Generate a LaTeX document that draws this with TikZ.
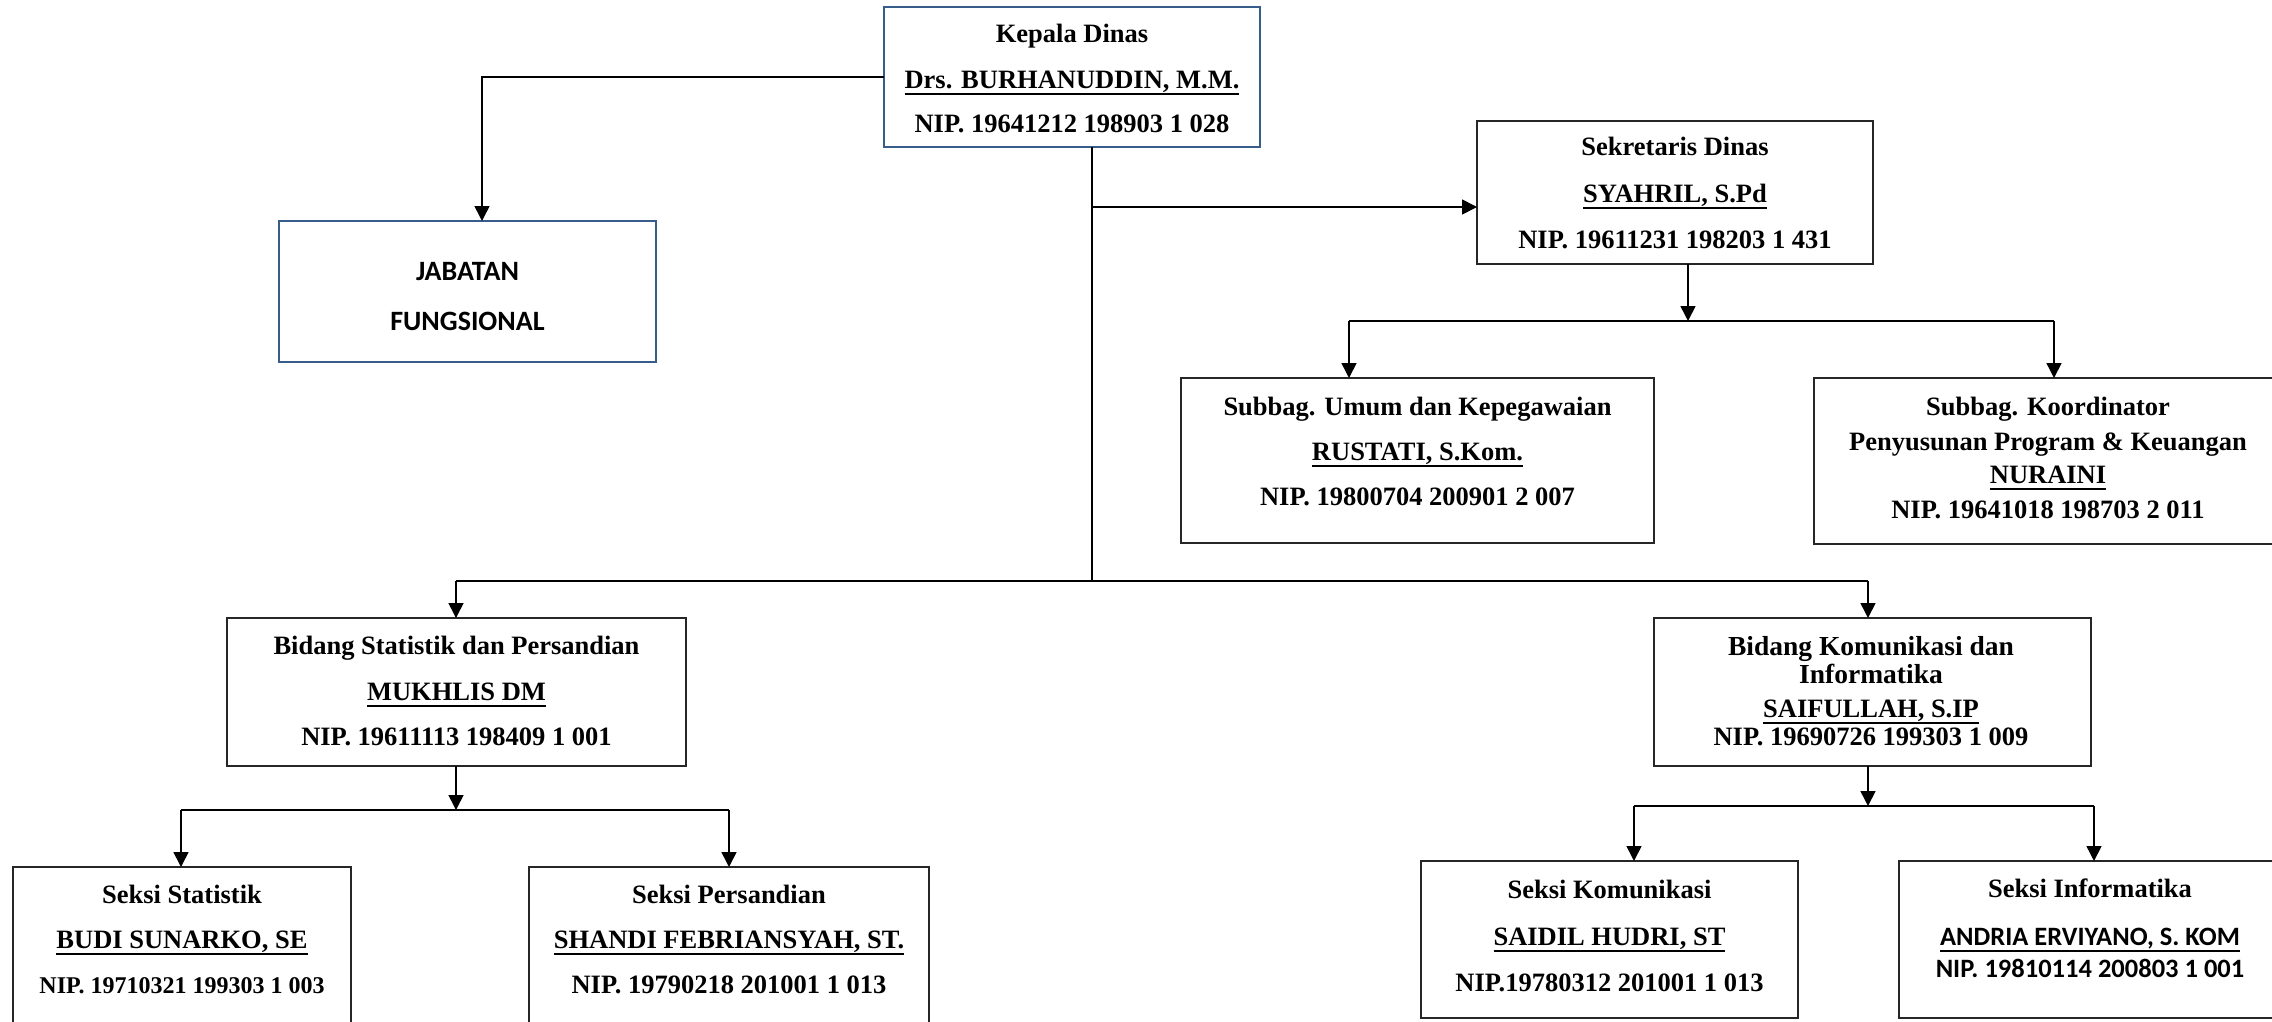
\documentclass[tikz,border=0pt]{standalone}
\usepackage{fontspec}
\setmainfont{Liberation Serif}
\newfontfamily\calfont{Carlito}
\newcommand\myul[1]{\setbox0=\hbox{#1}\leavevmode\rlap{\vrule width\wd0 height -4.6pt depth 7pt}\box0}
\usetikzlibrary{arrows.meta}
\definecolor{boxblue}{RGB}{56,93,138}
\tikzset{
  box/.style={draw=black!85, line width=1.6pt, inner sep=0pt, outer sep=0pt, rectangle},
  bluebox/.style={box, draw=boxblue},
  conn/.style={line width=1.6pt, black},
  arr/.style={conn, -{Triangle[length=15pt,width=15pt]}},
  tx/.style={anchor=base, inner sep=0pt, font=\rmfamily\bfseries\fontsize{26.5}{30}\selectfont},
  txbig/.style={anchor=base, inner sep=0pt, font=\rmfamily\bfseries\fontsize{27.5}{32}\selectfont},
  txsm/.style={anchor=base, inner sep=0pt, font=\rmfamily\bfseries\fontsize{24}{28}\selectfont},
  txc/.style={anchor=base, inner sep=0pt, font=\calfont\bfseries\fontsize{26.5}{30}\selectfont},
  txcbig/.style={anchor=base, inner sep=0pt, font=\calfont\bfseries\fontsize{28}{32}\selectfont},
}
\begin{document}
\begin{tikzpicture}[x=1pt,y=-1pt]
\useasboundingbox (0,0) rectangle (2272,1021);
\clip (0,0) rectangle (2272,1021);

% boxes
\node[bluebox, minimum width=376pt, minimum height=140pt] (kd) at (1072,77) {};
\node[bluebox, minimum width=377pt, minimum height=141pt] (jf) at (467.5,291.5) {};
\node[box, minimum width=396pt, minimum height=143pt] (sd) at (1675,192.5) {};
\node[box, minimum width=473pt, minimum height=165pt] (su) at (1417.5,460.5) {};
\node[box, minimum width=478pt, minimum height=166pt] (sk) at (2053,461) {};
\node[box, minimum width=459pt, minimum height=148pt] (bs) at (456.5,692) {};
\node[box, minimum width=437pt, minimum height=148pt] (bk) at (1872.5,692) {};
\node[box, minimum width=338pt, minimum height=173pt] (ss) at (182,953.5) {};
\node[box, minimum width=400pt, minimum height=173pt] (sp) at (729,953.5) {};
\node[box, minimum width=377pt, minimum height=157pt] (kom) at (1609.5,939.5) {};
\node[box, minimum width=383pt, minimum height=157pt] (inf) at (2090.5,939.5) {};

% texts
\node[tx] (kd1) at (1072,42) {Kepala Dinas};
\node[tx] (kd2) at (1072,88) {\myul{Drs. BURHANUDDIN, M.M.}};
\node[tx] (kd3) at (1072,132) {NIP. 19641212 198903 1 028};

\node[txcbig] (jf1) at (467.5,280) {JABATAN};
\node[txcbig] (jf2) at (467.5,330) {FUNGSIONAL};

\node[tx] (sd1) at (1675,155) {Sekretaris Dinas};
\node[tx] (sd2) at (1675,202) {\myul{SYAHRIL, S.Pd}};
\node[tx] (sd3) at (1675,248) {NIP. 19611231 198203 1 431};

\node[tx] (su1) at (1417.5,415) {Subbag. Umum dan Kepegawaian};
\node[tx] (su2) at (1417.5,460) {\myul{RUSTATI, S.Kom.}};
\node[tx] (su3) at (1417.5,505) {NIP. 19800704 200901 2 007};

\node[tx] (sk1) at (2048,415) {Subbag. Koordinator};
\node[tx] (sk2) at (2048,450) {Penyusunan Program \& Keuangan};
\node[tx] (sk3) at (2048,483) {\myul{NURAINI}};
\node[tx] (sk4) at (2048,518) {NIP. 19641018 198703 2 011};

\node[tx] (bs1) at (456.5,654) {Bidang Statistik dan Persandian};
\node[tx] (bs2) at (456.5,700) {\myul{MUKHLIS DM}};
\node[tx] (bs3) at (456.5,745) {NIP. 19611113 198409 1 001};

\node[txbig] (bk1) at (1871,655) {Bidang Komunikasi dan};
\node[txbig] (bk2) at (1871,683) {Informatika};
\node[tx] (bk3) at (1871,717) {\myul{SAIFULLAH, S.IP}};
\node[tx] (bk4) at (1871,745) {NIP. 19690726 199303 1 009};

\node[tx] (ss1) at (182,903) {Seksi Statistik};
\node[tx] (ss2) at (182,948) {\myul{BUDI SUNARKO, SE}};
\node[txsm] (ss3) at (182,993) {NIP. 19710321 199303 1 003};

\node[tx] (sp1) at (729,903) {Seksi Persandian};
\node[tx] (sp2) at (729,948) {\myul{SHANDI FEBRIANSYAH, ST.}};
\node[tx] (sp3) at (729,993) {NIP. 19790218 201001 1 013};

\node[tx] (kom1) at (1609.5,898) {Seksi Komunikasi};
\node[tx] (kom2) at (1609.5,945) {\myul{SAIDIL HUDRI, ST}};
\node[tx] (kom3) at (1609.5,991) {NIP.19780312 201001 1 013};

\node[tx] (inf1) at (2090,897) {Seksi Informatika};
\node[txc] (inf2) at (2090,945) {\myul{ANDRIA ERVIYANO, S. KOM}};
\node[txc] (inf3) at (2090,977) {NIP. 19810114 200803 1 001};

% connectors
\coordinate (t1) at (1092,207);
\coordinate (t2) at (1092,581);
\coordinate (b1) at (456,581);
\coordinate (b2) at (1868,581);
\draw[arr] (kd.west) -| ([xshift=14.5pt]jf.north);
\draw[conn] ([xshift=20pt]kd.south) -- (t2);
\draw[arr] (t1) -- (t1 -| sd.west);
\draw[conn] (b1) -- (b2);
\draw[arr] (b1) -- (b1 |- bs.north);
\draw[arr] (b2) -- (b2 |- bk.north);

\coordinate (s0) at (1688,321);
\coordinate (s1) at (1349,321);
\coordinate (s2) at (2054,321);
\draw[arr] (s0 |- sd.south) -- (s0);
\draw[conn] (s1) -- (s2);
\draw[arr] (s1) -- (s1 |- su.north);
\draw[arr] (s2) -- (s2 |- sk.north);

\coordinate (p0) at (456,810);
\coordinate (p1) at (181,810);
\coordinate (p2) at (729,810);
\draw[arr] (p0 |- bs.south) -- (p0);
\draw[conn] (p1) -- (p2);
\draw[arr] (p1) -- (p1 |- ss.north);
\draw[arr] (p2) -- (p2 |- sp.north);

\coordinate (q0) at (1868,806);
\coordinate (q1) at (1634,806);
\coordinate (q2) at (2094,806);
\draw[arr] (q0 |- bk.south) -- (q0);
\draw[conn] (q1) -- (q2);
\draw[arr] (q1) -- (q1 |- kom.north);
\draw[arr] (q2) -- (q2 |- inf.north);
\end{tikzpicture}
\end{document}
